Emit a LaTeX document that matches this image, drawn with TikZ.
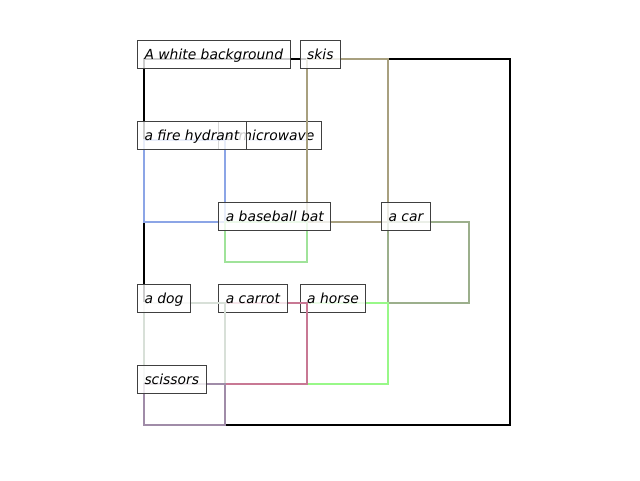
\documentclass[tikz,border=0pt]{standalone}
\usepackage{fontspec}
\newfontfamily\lblfont{DejaVu Sans}
\begin{document}
\begin{tikzpicture}[x=0.75pt,y=-0.75pt,
  bx/.style={line width=1.7pt, line join=miter},
  lbl/.style={anchor=base west, draw=black!75, line width=0.75pt, fill=white, fill opacity=0.8, text opacity=1,
    inner xsep=5.25pt, inner ysep=0pt, text height=14.25pt, text depth=6.75pt, font=\lblfont\itshape\fontsize{10.4}{12}\selectfont}]
\definecolor{cskis}{HTML}{A8A07F}
\definecolor{chyd}{HTML}{8CA5E6}
\definecolor{cmic}{HTML}{C8D4F0}
\definecolor{cbat}{HTML}{A0E39A}
\definecolor{ccar}{HTML}{9CAF8C}
\definecolor{cdog}{HTML}{D8E0D8}
\definecolor{ccar2}{HTML}{C87894}
\definecolor{chorse}{HTML}{98F888}
\definecolor{cscis}{HTML}{A08CA8}
\useasboundingbox[fill=white] (0,0) rectangle (640,480);
\coordinate (bgA) at (144,59);  \coordinate (bgB) at (510,425);
\draw[bx, black, line width=1.9pt] (bgA) rectangle (bgB);
\node[lbl] (lbg) at (137,59) {A white background};
% microwave
\coordinate (micA) at (225.3,140.3); \coordinate (micB) at (306.7,221.7);
\draw[bx, cmic] (micA) rectangle (micB);
\node[lbl] (lmic) at (218.3,140.3) {a microwave};
% skis
\coordinate (skiA) at (306.7,59); \coordinate (skiB) at (388,221.7);
\draw[bx, cskis] (skiA) rectangle (skiB);
\node[lbl] (lski) at (299.7,59) {skis};
% fire hydrant
\coordinate (hydA) at (144,140.3); \coordinate (hydB) at (225.3,221.7);
\draw[bx, chyd] (hydA) rectangle (hydB);
\node[lbl] (lhyd) at (137,140.3) {a fire hydrant};
% baseball bat
\coordinate (batA) at (225.3,221.7); \coordinate (batB) at (306.7,262.3);
\draw[bx, cbat] (batA) rectangle (batB);
\node[lbl] (lbat) at (218.3,221.7) {a baseball bat};
% car
\coordinate (carA) at (388,221.7); \coordinate (carB) at (469.3,303);
\draw[bx, ccar] (carA) rectangle (carB);
\node[lbl] (lcar) at (381,221.7) {a car};
% horse
\coordinate (horA) at (306.7,303); \coordinate (horB) at (388,384.3);
\draw[bx, chorse] (horA) rectangle (horB);
\node[lbl] (lhor) at (299.7,303) {a horse};
% carrot
\coordinate (crtA) at (225.3,303); \coordinate (crtB) at (306.7,384.3);
\draw[bx, ccar2] (crtA) rectangle (crtB);
\node[lbl] (lcrt) at (218.3,303) {a carrot};
% dog
\coordinate (dogA) at (144,303); \coordinate (dogB) at (225.3,425);
\draw[bx, cdog] (dogA) rectangle (dogB);
\node[lbl] (ldog) at (137,303) {a dog};
% scissors
\coordinate (scsA) at (144,384.3); \coordinate (scsB) at (225.3,425);
\draw[bx, cscis] (scsA) rectangle (scsB);
\node[lbl] (lscs) at (137,384.3) {scissors};
\end{tikzpicture}
\end{document}
